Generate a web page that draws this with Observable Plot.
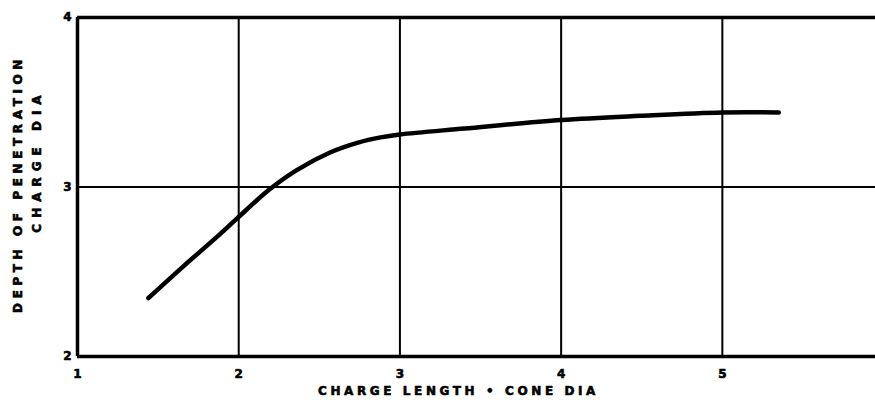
<!DOCTYPE html>
<html>
<head>
<meta charset="utf-8">
<script src="https://cdn.jsdelivr.net/npm/d3@7"></script>
<script src="https://cdn.jsdelivr.net/npm/@observablehq/plot@0.6"></script>
<style>
  html, body { margin: 0; padding: 0; background: #fff; }
  #chart svg { display: block; }
</style>
</head>
<body>
<div id="chart"></div>
<script>
// Charge length / cone dia (x) vs depth of penetration / charge dia (y)
const chargeLength = [1.44, 1.66, 1.87, 1.99, 2.19, 2.36, 2.57, 2.74, 2.88, 3.0, 3.4, 4.0, 4.49, 5.0, 5.35];
const penetration  = [2.345, 2.535, 2.71, 2.815, 2.985, 3.1, 3.205, 3.262, 3.293, 3.31, 3.345, 3.395, 3.42, 3.44, 3.44];
const xTicks = [1, 2, 3, 4, 5];
const yTicks = [2, 3, 4];
const xGrid = [2, 3, 4, 5];
const yGrid = [3];
const xLabel = "CHARGE LENGTH \u2022 CONE DIA";
const yLabelTop = "DEPTH OF PENETRATION";
const yLabelBottom = "CHARGE DIA";

const data = chargeLength.map((x, i) => ({x, y: penetration[i]}));

const chart = Plot.plot({
  width: 875,
  height: 409,
  marginLeft: 77,
  marginTop: 17,
  marginBottom: 53,
  marginRight: 0,
  style: {fontFamily: "DejaVu Sans", fontWeight: "bold", background: "#fff", color: "#000"},
  x: {domain: [1, 5.95], ticks: xTicks, tickSize: 0, tickPadding: 13, label: null, tickFormat: d => String(d)},
  y: {domain: [2, 4], ticks: yTicks, tickSize: 0, tickPadding: 6, label: null, tickFormat: d => String(d)},
  marks: [
    Plot.ruleX(xGrid, {stroke: "#000", strokeWidth: 2}),
    Plot.ruleY(yGrid, {stroke: "#000", strokeWidth: 2}),
    Plot.ruleX([1], {stroke: "#000", strokeWidth: 3.5}),
    Plot.ruleY([2, 4], {stroke: "#000", strokeWidth: 3.5}),
    Plot.line(data, {x: "x", y: "y", curve: "catmull-rom", stroke: "#000", strokeWidth: 4.5, strokeLinecap: "round"}),
    Plot.text([xLabel], {frameAnchor: "bottom", textAnchor: "middle", dx: -18, dy: 38, fontSize: 12, fontWeight: "bold", fill: "#000", stroke: "#000", strokeWidth: 0.6}),
    Plot.text([yLabelTop], {frameAnchor: "left", textAnchor: "middle", rotate: -90, dx: -59, dy: -3, fontSize: 12, fontWeight: "bold", fill: "#000", stroke: "#000", strokeWidth: 0.6}),
    Plot.text([yLabelBottom], {frameAnchor: "left", textAnchor: "middle", rotate: -90, dx: -40, dy: -26, fontSize: 12, fontWeight: "bold", fill: "#000", stroke: "#000", strokeWidth: 0.6})
  ]
});

const svg = d3.select(chart);
svg.selectAll("text").each(function() {
  const t = d3.select(this);
  const s = t.text();
  if (s === xLabel) t.style("letter-spacing", "3.6px");
  else if (s === yLabelTop) t.style("letter-spacing", "4.6px");
  else if (s === yLabelBottom) t.style("letter-spacing", "6px");
});
svg.selectAll("[aria-label='x-axis tick label'] text, [aria-label='y-axis tick label'] text")
  .style("font-size", "12px").style("font-weight", "bold")
  .attr("stroke", "#000").attr("stroke-width", 0.6);
document.getElementById("chart").appendChild(chart);
</script>
</body>
</html>
